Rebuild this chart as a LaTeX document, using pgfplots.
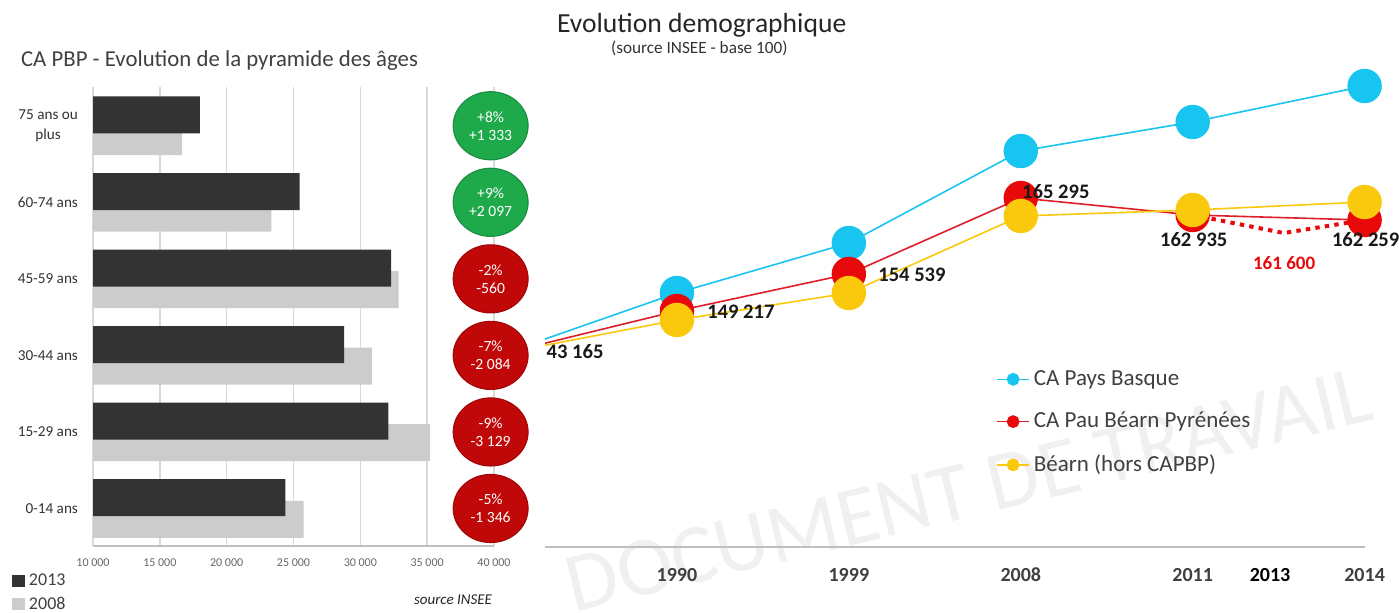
\documentclass[border=0pt]{standalone}
\usepackage{fontspec}
\setmainfont{Carlito}
\usepackage{pgfplots}
\pgfplotsset{compat=1.18}
\definecolor{cblue}{RGB}{24,196,240}
\definecolor{cred}{RGB}{232,10,10}
\definecolor{credl}{RGB}{222,30,40}
\definecolor{cyel}{RGB}{250,200,12}
\definecolor{cgreen}{RGB}{30,170,75}
\definecolor{cdred}{RGB}{192,8,8}
\definecolor{txt}{RGB}{64,64,64}
\newcommand{\fs}[2]{\fontsize{#1}{#2}\selectfont}
\tikzset{cl/.style={align=center, text=white, font=\fs{7.8}{9}},
         dl/.style={anchor=west, font=\fs{10.3}{12}\bfseries, text=black!90, inner sep=0pt}}
\pgfplotsset{leftgeom/.style={at={(46.5pt,33pt)}, anchor=south west, scale only axis, width=200.5pt, height=229.65pt,
 xmin=10000, xmax=40000, ymin=-0.49, ymax=5.51, scaled x ticks=false},
 rightgeom/.style={at={(272.5pt,32.5pt)}, anchor=south west, scale only axis, width=427pt, height=243.5pt,
 xmin=0.2326, xmax=5.2, ymin=80.6, ymax=129.3}}
\begin{document}
\begin{tikzpicture}
\useasboundingbox (0,0) rectangle (699.5pt,306pt);
\node[rotate=13.5, anchor=base, text=black!6, font=\fs{42}{42}] at (487.5pt,48pt) {DOCUMENT DE TRAVAIL};
\node[anchor=base west, text=txt, font=\fs{11.4}{13}] at (7pt,272.7pt) {CA PBP - Evolution de la pyramide des âges};
\node[anchor=base west, text=black!85, font=\fs{7.5}{9}\itshape] at (203.5pt,4pt) {source INSEE};
\node[anchor=base west, text=black!85, font=\fs{13.8}{15}] at (275pt,289.5pt) {Evolution demographique};
\node[anchor=base west, text=black!80, font=\fs{8.6}{10}] at (302pt,279pt) {(source INSEE - base 100)};

% ---- bars
\begin{axis}[leftgeom,
 axis x line*=bottom, axis y line*=left, y axis line style={draw=none},
 x axis line style={draw=black!25, line width=0.8pt},
 major tick length=0,
 xtick={10000,15000,20000,25000,30000,35000,40000},
 xticklabels={10 000,15 000,20 000,25 000,30 000,35 000,40 000},
 xticklabel style={font=\fs{6}{7}, text=black!60, yshift=-3pt},
 ytick={0,1,2,3,4,5},
 yticklabels={0-14 ans,15-29 ans,30-44 ans,45-59 ans,60-74 ans,{75 ans ou\\plus}},
 yticklabel style={font=\fs{7.6}{10}, text=black!80, align=center, xshift=-4pt},
 xmajorgrids, major grid style={black!15, line width=0.8pt},
 reverse legend,
 legend style={at={(-0.203,-0.052)}, anchor=north west, draw=none, fill=none, font=\fs{9}{11}, text=txt, inner sep=0pt, row sep=0pt, legend cell align=left},
]
\addplot[xbar, bar width=18.5pt, bar shift=-5.4pt, fill=black!20, draw=none,
  legend image code/.code={\fill[black!20] (0pt,-2.5pt) rectangle (6.5pt,3.5pt);}]
  coordinates {(25750,0) (35230,1) (30870,2) (32860,3) (23350,4) (16670,5)};
\addlegendentry{2008}
\addplot[xbar, bar width=18.5pt, bar shift=5.4pt, fill=black!80, draw=none,
  legend image code/.code={\fill[black!80] (0pt,-2.5pt) rectangle (6.5pt,3.5pt);}]
  coordinates {(24400,0) (32100,1) (28790,2) (32300,3) (25450,4) (18000,5)};
\addlegendentry{2013}
\end{axis}

% ---- circles
\begin{axis}[leftgeom, hide axis, clip=false]
\addplot[only marks, mark=*, mark size=17pt, mark options={xscale=1.1, fill=cgreen, draw=cgreen!85!black, line width=0.6pt}]
  coordinates {(39750,5) (39750,4)};
\addplot[only marks, mark=*, mark size=17pt, mark options={xscale=1.1, fill=cdred, draw=cdred!85!black, line width=0.6pt}]
  coordinates {(39750,3) (39750,2) (39750,1) (39750,0)};
\end{axis}
\begin{axis}[leftgeom, hide axis, clip=false]
\node[cl] at (axis cs:39750,5) {+8\%\\+1 333};
\node[cl] at (axis cs:39750,4) {+9\%\\+2 097};
\node[cl] at (axis cs:39750,3) {-2\%\\-560};
\node[cl] at (axis cs:39750,2) {-7\%\\-2 084};
\node[cl] at (axis cs:39750,1) {-9\%\\-3 129};
\node[cl] at (axis cs:39750,0) {-5\%\\-1 346};
\end{axis}

% ---- lines
\begin{axis}[rightgeom,
 axis line style={draw=none}, major tick length=0, ytick=\empty,
 xtick={1,2,3,4,4.45,5}, xticklabels={1990,1999,2008,2011,\textcolor{black}{2013},2014},
 xticklabel style={font=\fs{10}{12}\bfseries, text=txt, yshift=-7pt},
 legend style={at={(0.521,0.38)}, anchor=north west, draw=none, fill=none, font=\fs{11.5}{13}, text=txt, row sep=8pt, legend cell align=left},
 legend image code/.code={\draw[#1, mark size=2.8pt, mark repeat=2, mark phase=2] plot coordinates {(0pt,0pt) (8pt,0pt) (16pt,0pt)};},
]
\draw[black!25, line width=0.8pt] (axis cs:0.2326,80.6) -- (axis cs:5,80.6);
\addplot[cblue, line width=0.8pt, mark=*, mark size=8.2pt, mark options={fill=cblue, draw=cblue}]
  coordinates {(0,100) (1,106.0) (2,111.0) (3,120.2) (4,123.1) (5,126.7)};
\addlegendentry{CA Pays Basque}
\addplot[cred, line width=2pt, dash pattern=on 2.2pt off 2.6pt, forget plot]
  coordinates {(4,113.8) (4.53,112.0) (5,113.3)};
\addplot[credl, line width=0.8pt, mark=*, mark size=8.2pt, mark options={fill=cred, draw=cred}]
  coordinates {(0,100) (1,104.2) (2,107.9) (3,115.5) (4,113.8) (5,113.3)};
\addlegendentry{CA Pau Béarn Pyrénées}
\addplot[cyel, line width=0.8pt, mark=*, mark size=8.2pt, mark options={fill=cyel, draw=cyel}]
  coordinates {(0,100) (1,103.3) (2,106.0) (3,113.7) (4,114.3) (5,115.1)};
\addlegendentry{Béarn (hors CAPBP)}
\end{axis}
\begin{axis}[rightgeom, hide axis, clip=false]
\node[dl] at (axis cs:0.24,100.1) {43 165};
\node[dl] at (axis cs:1.174,104.1) {149 217};
\node[dl] at (axis cs:2.169,107.8) {154 539};
\node[dl] at (axis cs:3.006,116.1) {165 295};
\node[dl] at (axis cs:3.808,111.3) {162 935};
\node[dl] at (axis cs:4.808,111.3) {162 259};
\node[dl, font=\fs{9.5}{11}\bfseries, text=cred] at (axis cs:4.349,109.0) {161 600};
\end{axis}
\end{tikzpicture}
\end{document}
